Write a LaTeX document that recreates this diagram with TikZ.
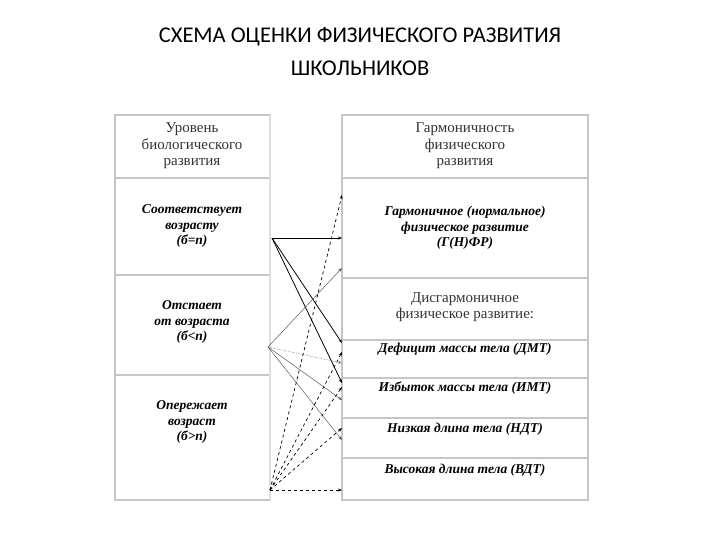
\documentclass[tikz,border=0pt]{standalone}
\usepackage{fontspec}
\usetikzlibrary{arrows.meta}
\setmainfont{Liberation Serif}
\newfontfamily\titlefont{Carlito}
\begin{document}
\begin{tikzpicture}[x=1pt,y=-1pt,
 cell/.style={draw=gray!45,line width=1.2pt},
 lbl/.style={align=center,font=\fontsize{13.5}{15.5}\selectfont\bfseries\itshape},
 hdr/.style={align=center,font=\fontsize{15}{16.5}\selectfont,text=black!80},
 sol/.style={line width=0.8pt,-{Stealth[length=4pt]}},
 dot/.style={gray,line width=0.6pt,densely dotted,-{Stealth[length=4pt]}},
 thin/.style={gray!70!black,line width=0.5pt,-{Stealth[length=4pt]}},
 dsh/.style={line width=0.7pt,dashed,-{Stealth[length=4pt]}}]
\useasboundingbox (0,0) rectangle (720,540);
\node[font=\titlefont\fontsize{22.5}{33}\selectfont,align=center] (t) at (360,52) {СХЕМА ОЦЕНКИ ФИЗИЧЕСКОГО РАЗВИТИЯ\\ШКОЛЬНИКОВ};
\draw[cell] (115,115) rectangle (270,178);
\draw[cell] (115,178) rectangle (270,275);
\draw[cell] (115,275) rectangle (270,375);
\draw[cell] (115,375) rectangle (270,500);
\draw[cell,draw=gray!25] (270,115) -- (270,500) (342,115) -- (342,500);
\draw[cell] (342,115) rectangle (588,178);
\draw[cell] (342,178) rectangle (588,278);
\draw[cell] (342,278) rectangle (588,340);
\draw[cell] (342,340) rectangle (588,378);
\draw[cell] (342,378) rectangle (588,418);
\draw[cell] (342,418) rectangle (588,458);
\draw[cell] (342,458) rectangle (588,500);
\node[hdr] (h1) at (192,146) {Уровень\\биологического\\развития};
\node[lbl] (l1) at (192,226) {Соответствует\\возрасту\\(б=п)};
\node[lbl] (l2) at (192,322) {Отстает\\от возраста\\(б<п)};
\node[lbl] (l3) at (192,422) {Опережает\\возраст\\(б>п)};
\node[hdr] (h2) at (465,146) {Гармоничность\\физического\\развития};
\node[lbl] (r1) at (465,228) {Гармоничное (нормальное)\\физическое развитие\\(Г(Н)ФР)};
\node[hdr] (r2) at (465,307) {Дисгармоничное\\физическое развитие:};
\node[lbl] (r3) at (465,349) {Дефицит массы тела (ДМТ)};
\node[lbl] (r4) at (465,388) {Избыток массы тела (ИМТ)};
\node[lbl] (r5) at (465,429) {Низкая длина тела (НДТ)};
\node[lbl] (r6) at (465,470) {Высокая длина тела (ВДТ)};
\coordinate (A) at (272,238);
\coordinate (B) at (268,347);
\coordinate (C) at (270,490);
\coordinate (a1) at (342,238);
\coordinate (a2) at (342,343);
\coordinate (a3) at (342,383);
\coordinate (b1) at (342,268);
\coordinate (b2) at (342,363);
\coordinate (b3) at (342,400);
\coordinate (b4) at (342,440);
\coordinate (c1) at (342,195);
\coordinate (c2) at (342,352);
\coordinate (c3) at (342,387);
\coordinate (c4) at (342,428);
\coordinate (c5) at (342,490);
\draw[sol] (A) -- (a1);
\draw[sol] (A) -- (a2);
\draw[sol] (A) -- (a3);
\draw[thin] (B) -- (b1);
\draw[dot] (B) -- (b2);
\draw[thin] (B) -- (b3);
\draw[thin] (B) -- (b4);
\draw[dsh] (C) -- (c1);
\draw[dsh] (C) -- (c2);
\draw[dsh] (C) -- (c3);
\draw[dsh] (C) -- (c4);
\draw[dsh] (C) -- (c5);
\end{tikzpicture}
\end{document}
